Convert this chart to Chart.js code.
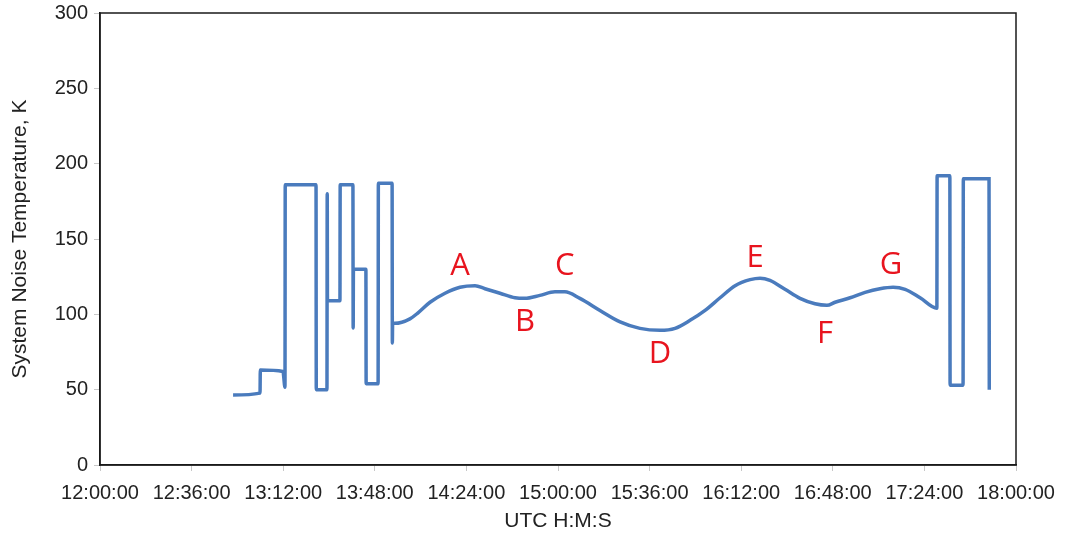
<!DOCTYPE html>
<html>
<head>
<meta charset="utf-8">
<script src="https://cdn.jsdelivr.net/npm/chart.js@4.4.1/dist/chart.umd.min.js"></script>
<style>
  html, body { margin: 0; padding: 0; background: #fff; }
  #wrap { width: 1068px; height: 537px; position: relative; }
</style>
</head>
<body>
<div id="wrap"><canvas id="c"></canvas></div>
<script>
// Time in minutes after 12:00:00 UTC, temperature in K
const startTimes  = [52.3, 62.9, 63.0, 71.9, 72.7, 72.8, 84.9, 85.0, 89.2, 89.3, 89.4, 94.3, 94.4, 99.4, 99.5, 99.6, 104.5, 104.6, 109.3, 109.4, 114.8, 114.9, 115.0];
const startValues = [46.4, 47.7, 63.0, 62.0, 51.6, 186, 186, 50, 50, 180, 109, 109, 186, 186, 91, 130, 130, 54, 54, 187, 187, 81, 94];

const curveTimes  = [115.9, 121.8, 125.0, 129.7, 135.6, 141.5, 147.4, 151.3, 157.2, 163.1, 167.0, 172.9, 178.8, 182.7, 188.6, 196.5, 204.4, 212.2, 220.1, 226.0, 231.9, 237.8, 243.7, 249.6, 255.5, 259.4, 263.3, 269.2, 275.1, 281.0, 285.7, 288.9, 294.8, 300.7, 306.5, 311.7, 316.4, 322.3, 328.9];
const curveValues = [94, 97, 101, 108, 114, 118, 119, 117, 114, 111, 110.6, 112.6, 115, 115, 110.6, 102.6, 95, 90.7, 89.4, 90.7, 96, 102.6, 111, 119, 123, 124, 122.5, 116.6, 110.6, 107, 106, 108, 111, 114.6, 117, 118, 116.6, 111, 104];

const endTimes  = [329.0, 334.0, 334.1, 339.2, 339.3, 349.4, 349.5];
const endValues = [192, 192, 53, 53, 190, 190, 50];

const markLabels = ["A", "B", "C", "D", "E", "F", "G"];
const markTimes  = [141.5, 167.0, 182.7, 220.1, 257.5, 284.9, 310.9];
const markValues = [131.8, 94.7, 131.8, 73.5, 137.1, 86.8, 132.5];

const xTickMinutes = [0, 36, 72, 108, 144, 180, 216, 252, 288, 324, 360];
const yTicks = [0, 50, 100, 150, 200, 250, 300];

function pts(xs, ys) { return xs.map((x, i) => ({ x: x, y: ys[i] })); }
const series = pts(startTimes, startValues).concat(pts(curveTimes, curveValues), pts(endTimes, endValues));

function fmt(m) {
  const h = 12 + Math.floor(m / 60);
  const mm = Math.round(m % 60);
  return h + ":" + String(mm).padStart(2, "0") + ":00";
}

const boxAndLabels = {
  id: "boxAndLabels",
  afterDatasetsDraw(chart) {
    const { ctx, chartArea: a, scales } = chart;
    ctx.save();
    ctx.strokeStyle = "#1a1a1a";
    ctx.lineWidth = 1.5;
    ctx.strokeRect(a.left, a.top, a.right - a.left, a.bottom - a.top);
    ctx.fillStyle = "#e8141e";
    ctx.font = "31px 'Open Sans', 'Liberation Sans', sans-serif";
    ctx.textAlign = "center";
    ctx.textBaseline = "middle";
    markLabels.forEach((t, i) => {
      ctx.fillText(t, scales.x.getPixelForValue(markTimes[i]), scales.y.getPixelForValue(markValues[i]));
    });
    ctx.restore();
  }
};

const axisFont = { family: "'Liberation Sans', Arial, sans-serif", size: 20 };

new Chart(document.getElementById("c"), {
  type: "line",
  data: {
    datasets: [{
      data: series,
      borderColor: "#4a7bbd",
      borderWidth: 3.5,
      pointRadius: 0,
      cubicInterpolationMode: "monotone",
      fill: false
    }]
  },
  options: {
    responsive: true,
    maintainAspectRatio: false,
    animation: false,
    layout: { padding: { top: 13, right: 52, bottom: 3, left: 0 } },
    plugins: { legend: { display: false }, tooltip: { enabled: false } },
    scales: {
      x: {
        type: "linear",
        min: 0, max: 360,
        afterBuildTicks(s) { s.ticks = xTickMinutes.map(v => ({ value: v })); },
        afterFit(s) { s.height = 69; },
        ticks: {
          callback: v => fmt(v),
          color: "#222",
          font: axisFont,
          maxRotation: 0, autoSkip: false, padding: 10
        },
        grid: { drawOnChartArea: false, color: "#c8c8c8", tickLength: 6 },
        border: { color: "#1a1a1a", width: 1.5 },
        title: {
          display: true, text: "UTC H:M:S", color: "#222",
          font: { family: "'Liberation Sans', Arial, sans-serif", size: 21 },
          padding: { top: 0, bottom: 0 }
        }
      },
      y: {
        min: 0, max: 300,
        afterBuildTicks(s) { s.ticks = yTicks.map(v => ({ value: v })); },
        afterFit(s) { s.width = 100; s.paddingTop = 0; s.paddingBottom = 0; },
        ticks: {
          color: "#222",
          font: { family: "'Liberation Sans', Arial, sans-serif", size: 20, lineHeight: 1 },
          padding: 6
        },
        grid: { drawOnChartArea: false, color: "#c8c8c8", tickLength: 6 },
        border: { color: "#1a1a1a", width: 1.5 },
        title: {
          display: true, text: "System Noise Temperature, K", color: "#222",
          font: { family: "'Liberation Sans', Arial, sans-serif", size: 21 },
          padding: { top: 8, bottom: 0 }
        }
      }
    }
  },
  plugins: [boxAndLabels]
});
</script>
</body>
</html>
